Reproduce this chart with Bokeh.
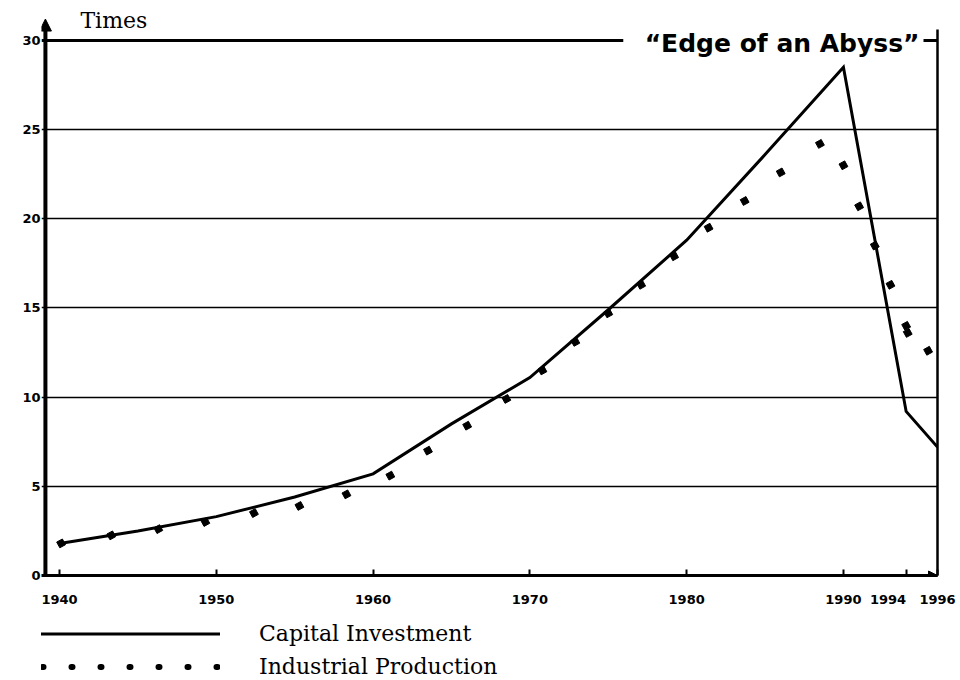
from bokeh.plotting import figure
from bokeh.layouts import column
from bokeh.models import (Range1d, LinearAxis, FixedTicker, Label, Arrow, NormalHead,
                          Legend, LegendItem, Span)
from bokeh.embed import file_html
from bokeh.resources import INLINE

# ---- data ----
cap_years = [1940, 1945, 1950, 1955, 1960, 1965, 1970, 1975, 1980, 1985, 1990, 1994, 1996]
cap_values = [1.8, 2.5, 3.3, 4.4, 5.7, 8.5, 11.1, 14.9, 18.8, 23.6, 28.5, 9.2, 7.2]

ind_years = [1940.1, 1943.3, 1946.3, 1949.3, 1952.4, 1955.3, 1958.3, 1961.1, 1963.5,
             1966.0, 1968.5, 1970.8, 1972.9, 1975.0, 1977.1, 1979.2, 1981.4, 1983.7,
             1986.0, 1988.5, 1990.0, 1991.0, 1992.0, 1993.0, 1994.0, 1994.1, 1995.4]
ind_values = [1.8, 2.25, 2.6, 3.0, 3.5, 3.9, 4.55, 5.6, 7.0,
              8.4, 9.9, 11.5, 13.1, 14.7, 16.3, 17.9, 19.5, 21.0,
              22.6, 24.2, 23.0, 20.7, 18.5, 16.3, 14.0, 13.6, 12.6]

x_ticks = [1940, 1950, 1960, 1970, 1980, 1990, 1994, 1996]
y_ticks = [0, 5, 10, 15, 20, 25, 30]
grid_ticks = [5, 10, 15, 20, 25]

series_names = ["Capital Investment", "Industrial Production"]
unit_label = "Times"
title_text = "\u00a0\u00a0\u201cEdge of an Abyss\u201d"

AXIS_X = 1939.1          # where the vertical axis stands
X0, X1 = 1938.85, 1996   # frame range
Y_TOP_LINE = 30
Y0, Y1 = 0, 32.24

TICK_FONT = "DejaVu Sans"
SERIF = "DejaVu Serif"
NBSP = "\u00a0"

p = figure(width=960, height=610, x_range=Range1d(X0, X1), y_range=Range1d(Y0, Y1),
           output_backend="svg", toolbar_location=None,
           min_border_left=41, min_border_right=23, min_border_top=0, min_border_bottom=35)
p.background_fill_color = "white"
p.border_fill_color = "white"
p.outline_line_color = None

# x axis
xa = p.xaxis[0]
xa.ticker = FixedTicker(ticks=x_ticks)
# keep the two close end labels apart, as in the original print
xa.major_label_overrides = {1994: "1994" + NBSP * 8}
xa.axis_line_width = 3
xa.axis_line_color = "black"
xa.major_tick_in = 6
xa.major_tick_out = 0
xa.major_tick_line_width = 2
xa.minor_tick_in = 0
xa.minor_tick_out = 0
xa.major_label_standoff = 16
xa.major_label_text_font = TICK_FONT
xa.major_label_text_font_style = "bold"
xa.major_label_text_font_size = "13px"
xa.major_label_text_color = "black"

# y axis (labels from bokeh axis; its line is drawn as an arrow)
ya = p.yaxis[0]
ya.ticker = FixedTicker(ticks=y_ticks)
ya.axis_line_color = None
ya.major_tick_in = 0
ya.major_tick_out = 0
ya.minor_tick_in = 0
ya.minor_tick_out = 0
ya.major_label_standoff = 1
ya.major_label_text_font = TICK_FONT
ya.major_label_text_font_style = "bold"
ya.major_label_text_font_size = "13px"
ya.major_label_text_color = "black"

# right border
right_axis = LinearAxis(ticker=FixedTicker(ticks=[]), axis_line_width=2.5, bounds=(0, 30.6),
                        major_tick_in=0, major_tick_out=0, minor_tick_in=0, minor_tick_out=0,
                        major_label_text_font_size="0px")
p.add_layout(right_axis, "right")

# grid
p.xgrid.visible = False
p.ygrid.ticker = FixedTicker(ticks=grid_ticks)
p.ygrid.grid_line_color = "black"
p.ygrid.grid_line_width = 1.3

# top border line
p.add_layout(Span(location=Y_TOP_LINE, dimension="width", line_color="black", line_width=3))

# vertical axis with arrow, horizontal axis arrow head
p.add_layout(Arrow(x_start=AXIS_X, y_start=0, x_end=AXIS_X, y_end=31.2, line_width=4,
                   end=NormalHead(size=12, fill_color="black", line_color="black")))
p.add_layout(Arrow(x_start=1993, y_start=0, x_end=1996, y_end=0, line_width=3,
                   end=NormalHead(size=9, fill_color="black", line_color="black")))

# series
p.line(cap_years, cap_values, line_width=3, line_color="black", line_join="miter")
p.scatter(ind_years, ind_values, marker="square", size=6.5, angle=0.5,
          fill_color="black", line_color="black")

# texts
p.add_layout(Label(x=AXIS_X, y=Y_TOP_LINE, x_offset=35, y_offset=20, text=unit_label,
                   text_font=SERIF, text_font_size="22px", text_baseline="alphabetic",
                   text_color="black"))
p.add_layout(Label(x=X1, y=Y_TOP_LINE, x_offset=-14, y_offset=-3, text=title_text,
                   text_align="right", text_baseline="middle", text_font=TICK_FONT,
                   text_font_style="bold", text_font_size="25px", text_color="black",
                   background_fill_color="white", padding=4))

# ---- legend strip below the chart ----
lg = figure(width=960, height=70, x_range=Range1d(0, 1), y_range=Range1d(0, 1),
            x_axis_type=None, y_axis_type=None, output_backend="svg", toolbar_location=None,
            min_border_left=0, min_border_right=0, min_border_top=0, min_border_bottom=0)
lg.outline_line_color = None
lg.background_fill_color = "white"
lg.border_fill_color = "white"
lg.xgrid.visible = False
lg.ygrid.visible = False
# same series (outside this strip's ranges, so only their legend keys show)
cap_key = lg.line(cap_years, cap_values, line_width=3, line_color="black")
ind_key = lg.line(ind_years, ind_values, line_width=6, line_color="black",
                  line_dash="1 28", line_dash_offset=-3, line_cap="round")

legend = Legend(items=[LegendItem(label=series_names[0], renderers=[cap_key]),
                       LegendItem(label=series_names[1], renderers=[ind_key])],
                location=(-2, 0), orientation="vertical", glyph_width=181, glyph_height=27,
                label_height=27, label_standoff=39, spacing=6, padding=0, margin=0,
                border_line_color=None, background_fill_alpha=0,
                label_text_font=SERIF, label_text_font_size="22px", label_text_color="black")
lg.add_layout(legend)

layout = column(p, lg, spacing=0)
open("out.html", "w").write(file_html(layout, INLINE))
